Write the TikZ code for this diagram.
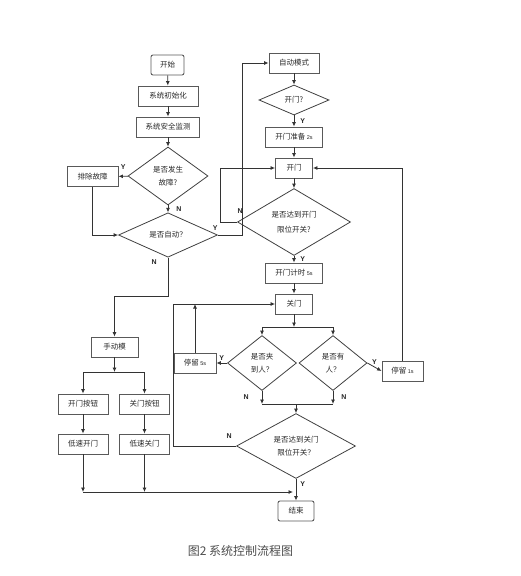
\documentclass[tikz,border=0pt]{standalone}
\usepackage{fontspec}
\setmainfont{Noto Sans CJK SC}
\newfontfamily\latin{Liberation Sans}
\usetikzlibrary{shapes.geometric,arrows.meta,positioning}

\begin{document}
\begin{tikzpicture}[x=1pt, y=-1pt,
  every node/.style={inner sep=0pt, font=\fontsize{7.5}{13}\selectfont, text=black!85},
  box/.style={draw=black!65, line width=0.9pt, minimum width=#1, minimum height=20pt},
  box/.default=50pt,
  term/.style={box=#1, rounded corners=2pt},
  decision/.style 2 args={draw=black!75, line width=0.8pt, diamond, align=center,
    minimum width=#1, minimum height=#2},
  flow/.style={draw=black!80, line width=0.8pt, -{Latex[length=4.5pt,width=4pt]}},
  line/.style={draw=black!80, line width=0.8pt},
  yn/.style={font=\latin\bfseries\fontsize{7}{8}\selectfont, text=black!85}
]
\useasboundingbox (0,0) rectangle (520,576);

\node[term=33pt] (start) at (167.5,65) {开始};
\node[box=60pt] (init) at (168,96) {系统初始化};
\node[box=63pt] (monitor) at (168,127) {系统安全监测};
\node[decision={80pt}{58pt}] (fault) at (168,176) {是否发生\\故障?};
\node[box=51pt] (clear) at (92.5,176.5) {排除故障};
\node[decision={99pt}{36pt}] (auto) at (168,235) {是否自动？};

\node[box=50pt] (automode) at (294,63) {自动模式};
\node[decision={70pt}{30pt}] (opendec) at (294,100) {开门?};
\node[box=57pt] (prep) at (294,137) {开门准备 {\latin\fontsize{5.5}{6}\selectfont 2s}};
\node[box=37pt] (open) at (294,168) {开门};
\node[decision={113pt}{61pt}] (openlim) at (294,222) {是否达到开门\\[2pt]限位开关?};
\node[box=57pt] (timer) at (294,273) {开门计时 {\latin\fontsize{5.5}{6}\selectfont 5s}};
\node[box=37pt] (close) at (294,304) {关门};
\node[decision={69pt}{55pt}] (pinch) at (262,363) {是否夹\\到人？};
\node[decision={68pt}{55pt}] (person) at (333,363) {是否有\\人？};
\node[box=42pt] (stay5) at (195,363) {停留 {\latin\fontsize{5.5}{6}\selectfont 5s}};
\node[box=41pt] (stay1) at (402.5,371) {停留 {\latin\fontsize{5.5}{6}\selectfont 1s}};
\node[decision={119pt}{61pt}] (closelim) at (296,446) {是否达到关门\\限位开关？};
\node[term=36pt] (end) at (296,511) {结束};

\node[box=47pt] (manual) at (114.5,347) {手动模};
\node[box=50pt] (openbtn) at (83,404) {开门按钮};
\node[box=50pt] (closebtn) at (144.5,404) {关门按钮};
\node[box=50pt] (slowopen) at (83,444) {低速开门};
\node[box=50pt] (slowclose) at (144.5,444) {低速关门};

\node[font=\fontsize{12}{14}\selectfont, text=black!70] (caption) at (240.5,551) {图2 系统控制流程图};

\coordinate (cs) at (294,327);
\coordinate (js) at (296,404);
\coordinate (ms) at (114.5,372);
\coordinate (bl) at (83,492);

\draw[flow] (start) -- (init);
\draw[flow] (init) -- (monitor);
\draw[flow] (monitor) -- (fault);
\draw[flow] (fault) -- node[yn, above=6pt] {Y} (clear);
\draw[flow] (fault) -- node[yn, right=8pt] {N} (auto);
\draw[flow] (clear) |- (auto.west);
\draw[flow] (auto.east) node[yn, above left=4pt and 0pt] {Y} -- (242,235) |- (automode.west);
\draw[flow] (auto.south) -- node[yn, pos=0.12, left=11pt] {N} (168,296) -| (manual.north);

\draw[flow] (automode) -- (opendec);
\draw[flow] (opendec) -- node[yn, right=6pt] {Y} (prep);
\draw[flow] (prep) -- (open);
\draw[flow] (open) -- (openlim);
\draw[flow] (openlim.west) node[yn, above right=8pt and 0pt] {N} -- (220,222) |- (open.west);
\draw[flow] (openlim) -- node[yn, right=6pt] {Y} (timer);
\draw[flow] (timer) -- (close);
\draw[flow] (close) -- (cs);
\draw[flow] (cs) -| (pinch.north);
\draw[flow] (cs) -| (person.north);
\draw[flow] (pinch) -- node[yn, above=2pt] {Y} (stay5);
\draw[flow] (stay5) -- (stay5 |- close.west);
\draw[flow] (person.east) -- node[yn, above=2pt] {Y} (stay1.west);
\draw[flow] (stay1.north) |- (open.east);
\draw[flow] (pinch) -- node[yn, left=13pt] {N} (pinch |- js);
\draw[flow] (person) -- node[yn, right=8pt] {N} (person |- js);
\draw[line] (pinch |- js) -- (person |- js);
\draw[flow] (js) -- (closelim);
\draw[flow] (closelim.west) node[yn, above left=7pt and 4pt] {N} -- (173,446) |- (close.west);
\draw[flow] (closelim) -- node[yn, pos=0.25, right=4pt] {Y} (end);

\draw[flow] (manual) -- (ms);
\draw[flow] (ms) -| (openbtn);
\draw[flow] (ms) -| (closebtn);
\draw[flow] (openbtn) -- (slowopen);
\draw[flow] (closebtn) -- (slowclose);
\draw[flow] (slowopen) -- (bl);
\draw[flow] (slowclose) -- (slowclose |- bl);
\draw[flow, shorten >=3pt] (bl) -- (end.north |- bl);
\end{tikzpicture}
\end{document}
